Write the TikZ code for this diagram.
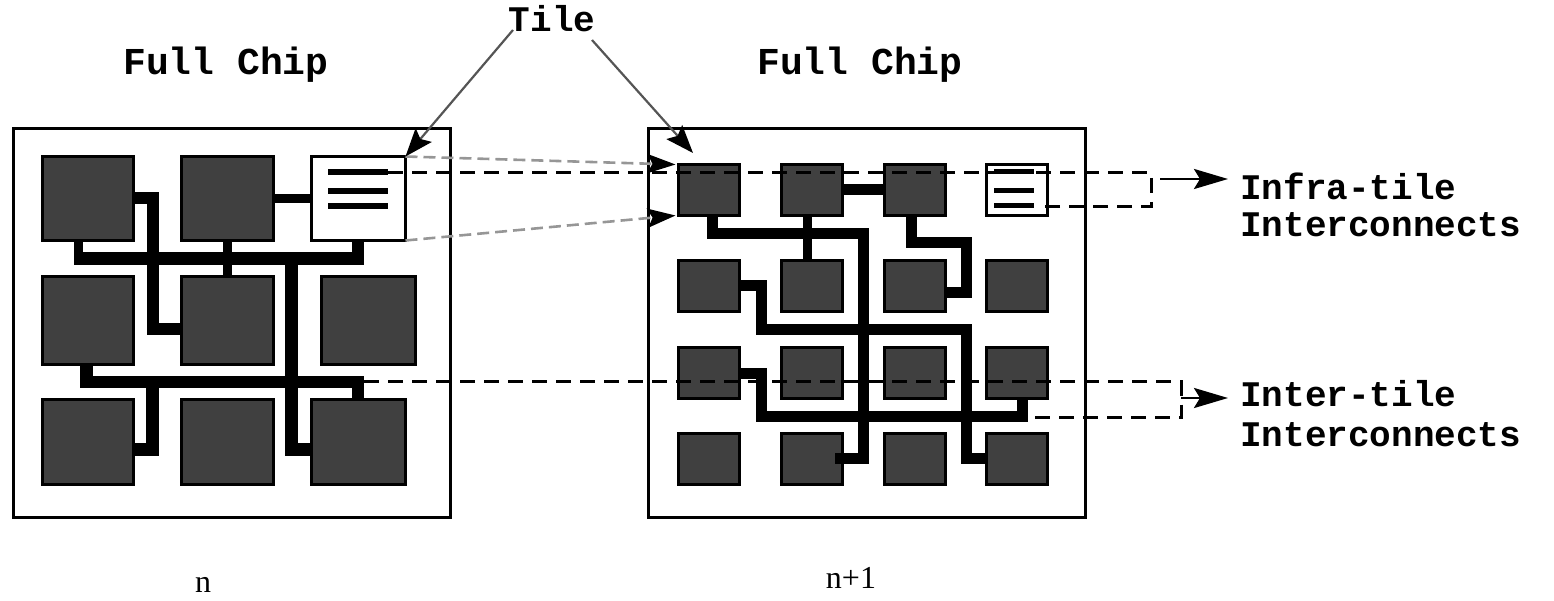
\documentclass[tikz,border=0pt]{standalone}
\usepackage{fontspec}
\newfontfamily\cour{Liberation Mono}
\newfontfamily\tms{Liberation Serif}
\usetikzlibrary{arrows.meta}
\definecolor{tilegray}{RGB}{64,64,64}
\definecolor{ptrgray}{RGB}{85,85,85}
\definecolor{ghost}{RGB}{150,150,150}
\begin{document}
\begin{tikzpicture}[x=1pt,y=-1pt,
  chip/.style={draw, line width=3.2pt, inner sep=0pt, outer sep=0pt},
  tile/.style={draw, line width=3pt, fill=tilegray, inner sep=0pt, outer sep=0pt},
  wtile/.style={draw, line width=3pt, fill=white, inner sep=0pt, outer sep=0pt},
  rtile/.style={tile, minimum width=61pt, minimum height=51pt},
  wire/.style={line width=#1, line cap=butt, line join=miter},
  dsh/.style={line width=3pt, dash pattern=on 15pt off 9pt},
  lbl/.style={font=\cour\bfseries\fontsize{36}{40}\selectfont, inner sep=0pt},
  bigarr/.style={line width=2.8pt, -{Stealth[length=34pt,width=20pt,inset=6pt]}},
  tilearr/.style={line width=2.2pt, draw=ptrgray, -{Stealth[length=28pt,width=21pt,inset=5pt,color=black]}},
  ghostarr/.style={line width=2.6pt, draw=ghost, dash pattern=on 12pt off 6pt, -{Stealth[length=28pt,width=19pt,inset=5pt,color=black]}}
]
\useasboundingbox (0,0) rectangle (1554,601);

% ---------- texts ----------
\node[lbl, anchor=base] (tile) at (552,32) {Tile};
\node[lbl, anchor=base, font=\cour\bfseries\fontsize{38}{42}\selectfont] (fcL) at (226,75) {Full Chip};
\node[lbl, anchor=base, font=\cour\bfseries\fontsize{38}{42}\selectfont] (fcR) at (860,75) {Full Chip};
\node[lbl, anchor=base west] (infra1) at (1240,200) {Infra-tile};
\node[lbl, anchor=base west] (infra2) at (1240,237) {Interconnects};
\node[lbl, anchor=base west] (inter1) at (1240,406) {Inter-tile};
\node[lbl, anchor=base west] (inter2) at (1240,446) {Interconnects};
\node[font=\tms\fontsize{32}{36}\selectfont, inner sep=0pt, anchor=base] (nL) at (203,592) {n};
\node[font=\tms\fontsize{32}{36}\selectfont, inner sep=0pt, anchor=base] (nR) at (851,588) {n+1};

% ---------- chips ----------
\node[chip, minimum width=437pt, minimum height=389pt] (chipL) at (232,323) {};
\node[chip, minimum width=437pt, minimum height=389pt] (chipR) at (867,323) {};

% ---------- left tiles ----------
\node[tile, minimum width=91pt, minimum height=84pt] (L11) at (88,198.5) {};
\node[tile, minimum width=92pt, minimum height=84pt] (L12) at (227.5,198.5) {};
\node[wtile, minimum width=94pt, minimum height=84pt] (L13) at (358.5,198.5) {};
\node[tile, minimum width=91pt, minimum height=88pt] (L21) at (88,320.5) {};
\node[tile, minimum width=92pt, minimum height=88pt] (L22) at (227.5,320.5) {};
\node[tile, minimum width=94pt, minimum height=88pt] (L23) at (368.5,320.5) {};
\node[tile, minimum width=91pt, minimum height=85pt] (L31) at (88,442) {};
\node[tile, minimum width=92pt, minimum height=85pt] (L32) at (227.5,442) {};
\node[tile, minimum width=94pt, minimum height=85pt] (L33) at (358.5,442) {};

% ---------- right tiles ----------
\foreach \c/\x in {1/709,2/812,3/914.5,4/1017}{
  \foreach \r/\y in {1/190,2/286.5,3/372.5,4/459}{
    \node[rtile] (R\r\c) at (\x,\y) {};
  }
}
\node[wtile, minimum width=61pt, minimum height=51pt] (R14) at (1017,190) {};

% ---------- left wires ----------
\draw[wire=12pt] (L11.east) -- (152.5,198.5) -- (152.5,329) -- (180,329);
\draw[wire=9pt] (L12.east) -- (L13.west);
\draw[wire=13pt] (74,258.5) -- (364,258.5);
\draw[wire=9pt] (78.5,242) -- (78.5,258);
\draw[wire=9pt] (L12.south) -- (L22.north);
\draw[wire=12pt] (358,242) -- (358,258);
\draw[wire=13pt] (291.5,258) -- (291.5,449) -- (310,449);
\draw[wire=12pt] (80,381.5) -- (364,381.5);
\draw[wire=13pt] (86.5,366) -- (86.5,381);
\draw[wire=12pt] (358,381) -- (358,398);
\draw[wire=13pt] (152.5,381) -- (152.5,449) -- (135,449);

% lines inside left white tile
\foreach \y in {172,191,206} \draw[wire=6pt] (328,\y) -- (388,\y);

% ---------- right wires ----------
\draw[wire=11pt] (R12.east) -- (R13.west);
\draw[wire=11pt] (712.5,217) -- (712.5,233.5) -- (863,233.5) -- (863,458.5) -- (835,458.5);
\draw[wire=9pt] (807,217) -- (807,260);
\draw[wire=11pt] (911.5,217) -- (911.5,242.5) -- (966,242.5) -- (966,293) -- (947,293);
\draw[wire=11pt] (741,286) -- (761,286) -- (761,329) -- (966,329) -- (966,458.5) -- (985,458.5);
\draw[wire=11pt] (741,373) -- (761,373) -- (761,416.5) -- (1022.5,416.5) -- (1022.5,399);

% lines inside right white tile
\foreach \y in {172,191,206} \draw[wire=5pt] (994,\y) -- (1034,\y);

% ---------- dashed brackets ----------
\coordinate (infraS) at (388,173);
\coordinate (infraC1) at (1151,173);
\coordinate (infraC2) at (1151,207);
\coordinate (infraE) at (1044,207);
\draw[dsh] (infraS) -- (infraC1) -- (infraC2) -- (infraE);
\coordinate (interS) at (364,381.5);
\coordinate (interC1) at (1181,381.5);
\coordinate (interC2) at (1181,417);
\coordinate (interE) at (1027,417);
\draw[dsh] (interS) -- (interC1) -- (interC2) -- (interE);

\coordinate (infraA) at (1160,179);
\coordinate (infraT) at (1228,179);
\draw[bigarr] (infraA) -- (infraT);
\coordinate (interA) at (1181,398);
\coordinate (interT) at (1228,398);
\draw[bigarr] (interA) -- (interT);

% ---------- ghost arrows ----------
\draw[ghostarr] (L13.north east) -- ([xshift=-3pt]R11.north west);
\draw[ghostarr] (L13.south east) -- ([xshift=-3pt]R11.south west);

% ---------- tile pointers ----------
\coordinate (tileA) at (513,30);
\coordinate (tileB) at (592,40);
\coordinate (tileBT) at (693,153);
\draw[tilearr] (tileA) -- (L13.north east);
\draw[tilearr] (tileB) -- (tileBT);
\end{tikzpicture}
\end{document}
